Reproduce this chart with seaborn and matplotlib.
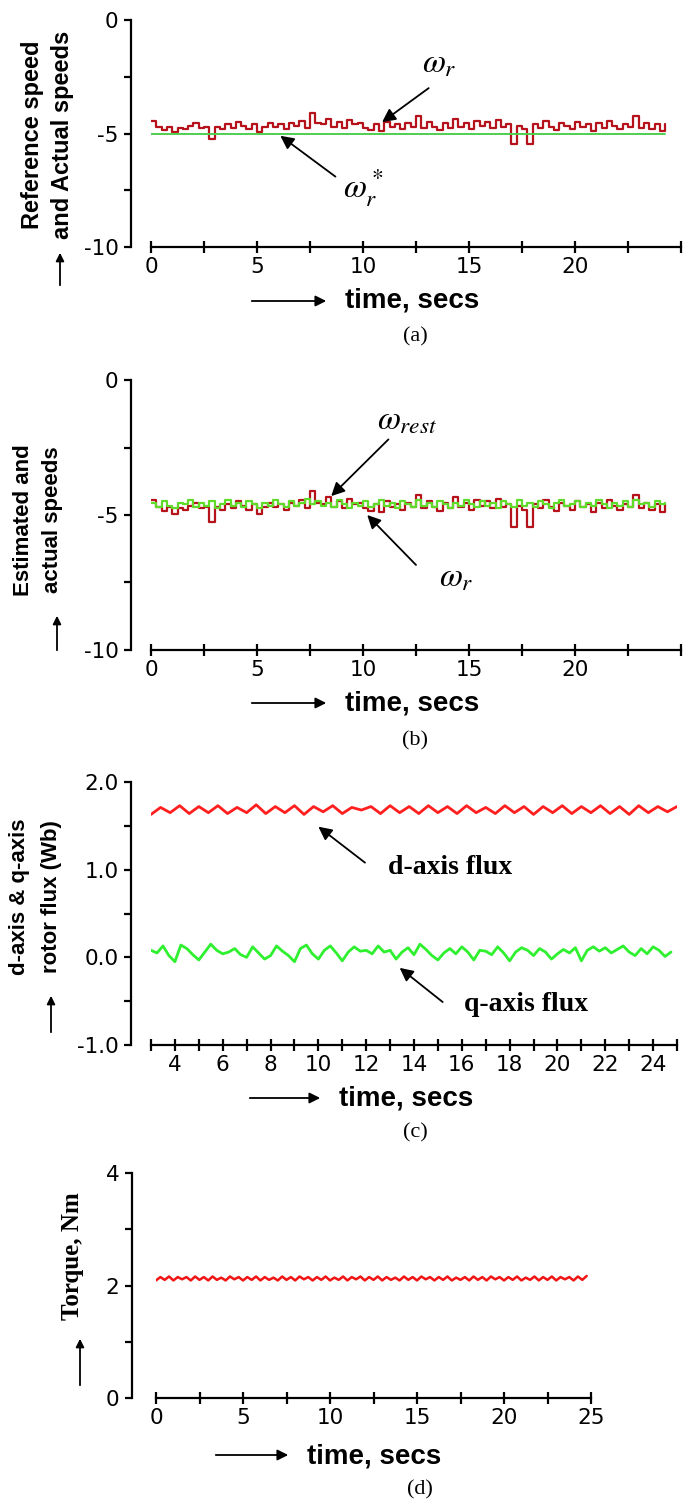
import numpy as np
import seaborn as sns
import matplotlib.pyplot as plt

sns.set_style('white')
plt.rcParams['font.family'] = ['DejaVu Sans']
plt.rcParams['mathtext.fontset'] = 'stix'
plt.rcParams['text.color'] = 'black'

W, H = 687, 1499

# (a) / (b) speeds, sampled every 0.25 s
speed_dt = 0.25
omega_r = [
    -4.45, -4.70, -4.85, -4.70, -4.95, -4.75, -4.80, -4.65,
    -4.55, -4.75, -4.70, -5.25, -4.70, -4.80, -4.60, -4.75,
    -4.50, -4.65, -4.80, -4.60, -4.95, -4.70, -4.55, -4.70,
    -4.60, -4.80, -4.55, -4.65, -4.45, -4.75, -4.10, -4.55,
    -4.60, -4.35, -4.70, -4.50, -4.75, -4.40, -4.60, -4.55,
    -4.75, -4.85, -4.60, -4.90, -4.50, -4.70, -4.60, -4.80,
    -4.55, -4.70, -4.25, -4.75, -4.50, -4.70, -4.85, -4.55,
    -4.75, -4.35, -4.70, -4.55, -4.80, -4.45, -4.65, -4.50,
    -4.75, -4.40, -4.70, -4.60, -5.45, -4.65, -4.80, -5.45,
    -4.60, -4.75, -4.45, -4.70, -4.85, -4.55, -4.65, -4.80,
    -4.50, -4.70, -4.60, -4.90, -4.55, -4.75, -4.45, -4.65,
    -4.80, -4.60, -4.70, -4.25, -4.75, -4.55, -4.80, -4.60,
    -4.90, -4.60,
]
ref_time = [0.0, 24.25]
omega_ref = [-5.0, -5.0]
omega_est = [
    -4.55, -4.70, -4.50, -4.65, -4.75, -4.55, -4.60, -4.45,
    -4.70, -4.55, -4.65, -4.50, -4.75, -4.60, -4.45, -4.65,
    -4.55, -4.70, -4.50, -4.60, -4.75, -4.55, -4.65, -4.45,
    -4.60, -4.70, -4.50, -4.65, -4.55, -4.40, -4.60, -4.50,
    -4.65, -4.55, -4.70, -4.45, -4.60, -4.75, -4.55, -4.65,
    -4.50, -4.70, -4.60, -4.45, -4.65, -4.55, -4.75, -4.50,
    -4.60, -4.70, -4.45, -4.65, -4.55, -4.70, -4.50, -4.60,
    -4.75, -4.55, -4.65, -4.45, -4.60, -4.70, -4.50, -4.65,
    -4.55, -4.75, -4.50, -4.60, -4.70, -4.45, -4.65, -4.55,
    -4.70, -4.50, -4.60, -4.75, -4.55, -4.45, -4.65, -4.60,
    -4.50, -4.70, -4.55, -4.65, -4.45, -4.60, -4.75, -4.55,
    -4.65, -4.50, -4.70, -4.45, -4.60, -4.55, -4.70, -4.50,
    -4.60, -4.55,
]

# (c) rotor flux
d_start, d_dt = 3.0, 0.4
d_flux = [
    1.63, 1.71, 1.65, 1.73, 1.64, 1.72, 1.65, 1.73, 1.64, 1.71,
    1.65, 1.74, 1.64, 1.72, 1.65, 1.73, 1.63, 1.72, 1.66, 1.73,
    1.64, 1.71, 1.68, 1.72, 1.64, 1.73, 1.65, 1.72, 1.64, 1.73,
    1.65, 1.72, 1.64, 1.73, 1.65, 1.71, 1.64, 1.73, 1.65, 1.72,
    1.63, 1.72, 1.65, 1.73, 1.64, 1.72, 1.65, 1.73, 1.64, 1.72,
    1.63, 1.73, 1.65, 1.72, 1.66, 1.72,
]
q_start, q_dt = 3.0, 0.25
q_flux = [
    0.08, 0.05, 0.13, 0.02, -0.05, 0.14, 0.10, 0.03,
    -0.03, 0.06, 0.15, 0.08, 0.04, 0.06, 0.10, 0.03,
    0.00, 0.12, 0.05, -0.02, 0.02, 0.13, 0.07, 0.02,
    -0.05, 0.10, 0.14, 0.04, -0.02, 0.08, 0.13, 0.05,
    -0.04, 0.06, 0.12, 0.07, 0.08, 0.04, 0.13, 0.06,
    0.08, -0.02, 0.06, 0.11, 0.03, 0.15, 0.09, 0.02,
    -0.03, 0.05, 0.10, 0.04, 0.12, 0.06, -0.03, 0.08,
    0.07, 0.03, 0.12, 0.05, -0.04, 0.06, 0.11, 0.08,
    0.02, 0.10, 0.06, -0.02, 0.04, 0.09, 0.05, 0.11,
    -0.04, 0.08, 0.12, 0.07, 0.11, 0.05, 0.09, 0.13,
    0.06, 0.02, 0.10, 0.04, 0.12, 0.08, 0.01, 0.06,
]

# (d) torque
torque_dt = 0.25
torque = [
    2.09, 2.15, 2.10, 2.16, 2.09, 2.15, 2.11, 2.15, 2.09, 2.16,
    2.10, 2.15, 2.09, 2.16, 2.10, 2.14, 2.09, 2.16, 2.11, 2.15,
    2.09, 2.15, 2.10, 2.16, 2.09, 2.15, 2.10, 2.14, 2.09, 2.16,
    2.10, 2.15, 2.09, 2.16, 2.11, 2.15, 2.09, 2.15, 2.10, 2.16,
    2.09, 2.14, 2.10, 2.16, 2.09, 2.15, 2.11, 2.16, 2.09, 2.15,
    2.10, 2.16, 2.09, 2.15, 2.10, 2.14, 2.09, 2.16, 2.10, 2.15,
    2.09, 2.16, 2.11, 2.15, 2.09, 2.15, 2.10, 2.16, 2.09, 2.14,
    2.10, 2.15, 2.09, 2.16, 2.10, 2.15, 2.09, 2.16, 2.11, 2.15,
    2.09, 2.15, 2.10, 2.16, 2.09, 2.14, 2.10, 2.16, 2.09, 2.15,
    2.10, 2.16, 2.09, 2.15, 2.11, 2.15, 2.09, 2.16, 2.10, 2.17,
]

speed_t = np.arange(len(omega_r)) * speed_dt
d_t = d_start + np.arange(len(d_flux)) * d_dt
q_t = q_start + np.arange(len(q_flux)) * q_dt
torque_t = np.arange(len(torque)) * torque_dt


def px(x, y):
    return x / W, 1 - y / H


def make_axes(x0, x1, ytop, ybot, offset):
    l, b = px(x0, ybot)
    ax = fig.add_axes([l, b, (x1 - x0) / W, (ybot - ytop) / H])
    for s in ['top', 'right']:
        ax.spines[s].set_visible(False)
    for s in ['left', 'bottom']:
        ax.spines[s].set_linewidth(1.6)
        ax.spines[s].set_color('black')
    ax.spines['left'].set_position(('outward', offset))
    ax.tick_params(axis='x', bottom=True, direction='inout', length=8, width=1.6,
                   pad=3, labelsize=15.5, colors='black')
    ax.tick_params(axis='y', left=True, direction='out', length=5, width=1.6,
                   pad=4, labelsize=15.5, colors='black')
    ax.set_xlabel('')
    ax.set_ylabel('')
    return ax


def ticks(ax, xt, xl, yt, yl):
    ax.set_xticks(xt)
    ax.set_xticklabels(xl)
    ax.set_yticks(yt)
    ax.set_yticklabels(yl)


def arrow(ax, tail, head, ms=20, lw=1.3, coords='data'):
    ax.annotate('', xy=head, xytext=tail, xycoords=coords, textcoords=coords,
                arrowprops=dict(arrowstyle='-|>', color='black', lw=lw,
                                mutation_scale=ms, shrinkA=0, shrinkB=0))


def fig_arrow(tail, head, ms=14):
    fig.patches.append(plt.matplotlib.patches.FancyArrowPatch(
        px(*tail), px(*head), transform=fig.transFigure, arrowstyle='-|>',
        mutation_scale=ms, color='black', lw=1.3))


def xlabel_block(xa0, xa1, ytext, caption_y, caption):
    fig_arrow((xa0, ytext), (xa1, ytext), ms=16)
    fig.text(*px(xa1 + 16, ytext), 'time, secs', ha='left', va='center',
             fontsize=20, fontweight='bold', family='Liberation Sans')
    fig.text(*px(415, caption_y), caption, ha='center', va='center',
             fontsize=16, family='Liberation Serif')


fig = plt.figure(figsize=(W / 100, H / 100), dpi=100)

# ---- (a)
ax = make_axes(151, 681, 20, 247, 14.4)
sns.lineplot(x=speed_t, y=omega_r, ax=ax, color='#b5121b', linewidth=1.6,
             drawstyle='steps-post')
sns.lineplot(x=ref_time, y=omega_ref, ax=ax, color='#4fcf4f', linewidth=1.4)
ax.set_xlim(0, 25)
ax.set_ylim(-10, 0)
ticks(ax, np.arange(0, 25.1, 2.5), ['0', '', '5', '', '10', '', '15', '', '20', '', ''],
      [-10, -7.5, -5, -2.5, 0], ['-10', '', '-5', '', '0'])
ax.text(13.6, -1.9, r'$\omega_r$', fontsize=24, ha='center', va='center')
arrow(ax, (13.1, -3.0), (10.9, -4.5))
ax.text(10.0, -7.4, r'$\omega_r^*$', fontsize=24, ha='center', va='center')
arrow(ax, (8.7, -6.9), (6.1, -5.1))
fig.text(*px(33, 135), 'Reference speed', rotation=90, ha='center', va='center',
         fontsize=17, fontweight='bold', family='Liberation Sans')
fig.text(*px(62, 135), 'and Actual speeds', rotation=90, ha='center', va='center',
         fontsize=17, fontweight='bold', family='Liberation Sans')
fig_arrow((60, 288), (60, 250), ms=12)
xlabel_block(249, 329, 301, 337, '(a)')

# ---- (b)
ax = make_axes(151, 681, 380, 650, 14.4)
sns.lineplot(x=speed_t, y=omega_r, ax=ax, color='#b5121b', linewidth=1.6,
             drawstyle='steps-post')
sns.lineplot(x=speed_t, y=omega_est, ax=ax, color='#5fdc2a', linewidth=1.6,
             drawstyle='steps-post')
ax.set_xlim(0, 25)
ax.set_ylim(-10, 0)
ticks(ax, np.arange(0, 25.1, 2.5), ['0', '', '5', '', '10', '', '15', '', '20', '', ''],
      [-10, -7.5, -5, -2.5, 0], ['-10', '', '-5', '', '0'])
ax.text(12.1, -1.5, r'$\omega_{rest}$', fontsize=24, ha='center', va='center')
arrow(ax, (11.2, -2.2), (8.5, -4.3))
ax.text(14.4, -7.3, r'$\omega_r$', fontsize=24, ha='center', va='center')
arrow(ax, (12.5, -6.85), (10.2, -5.0))
fig.text(*px(24, 520), 'Estimated and', rotation=90, ha='center', va='center',
         fontsize=16, fontweight='bold', family='Liberation Sans')
fig.text(*px(53, 520), 'actual speeds', rotation=90, ha='center', va='center',
         fontsize=16, fontweight='bold', family='Liberation Sans')
fig_arrow((57, 653), (57, 613), ms=12)
xlabel_block(249, 329, 703, 741, '(b)')

# ---- (c)
ax = make_axes(151, 677, 782, 1045, 14.4)
sns.lineplot(x=d_t, y=d_flux, ax=ax, color='#ff1f1f', linewidth=2.0)
sns.lineplot(x=q_t, y=q_flux, ax=ax, color='#2ef02e', linewidth=2.0)
ax.set_xlim(3, 25)
ax.set_ylim(-1, 2)
ticks(ax, np.arange(3, 26, 1), [str(v) if v % 2 == 0 else '' for v in range(3, 26)],
      np.arange(-1, 2.01, 0.5), ['-1.0', '', '0.0', '', '1.0', '', '2.0'])
ax.text(15.5, 1.02, 'd-axis flux', fontsize=20, fontweight='bold',
        family='Liberation Serif', ha='center', va='center')
arrow(ax, (11.95, 1.08), (10.0, 1.49))
ax.text(18.7, -0.54, 'q-axis flux', fontsize=20, fontweight='bold',
        family='Liberation Serif', ha='center', va='center')
arrow(ax, (15.2, -0.51), (13.4, -0.12))
fig.text(*px(20, 897), 'd-axis & q-axis', rotation=90, ha='center', va='center',
         fontsize=16, fontweight='bold', family='Liberation Sans')
fig.text(*px(51, 897), 'rotor flux (Wb)', rotation=90, ha='center', va='center',
         fontsize=16, fontweight='bold', family='Liberation Sans')
fig_arrow((51, 1035), (51, 993), ms=12)
xlabel_block(247, 323, 1098, 1133, '(c)')

# ---- (d)
ax = make_axes(156, 591, 1173, 1398, 17.3)
sns.lineplot(x=torque_t, y=torque, ax=ax, color='#f01414', linewidth=1.8)
ax.set_xlim(0, 25)
ax.set_ylim(0, 4)
ticks(ax, np.arange(0, 25.1, 2.5), ['0', '', '5', '', '10', '', '15', '', '20', '', '25'],
      [0, 1, 2, 3, 4], ['0', '', '2', '', '4'])
fig.text(*px(73, 1256), 'Torque, Nm', rotation=90, ha='center', va='center',
         fontsize=18, fontweight='bold', family='Liberation Serif')
fig_arrow((80, 1388), (80, 1336), ms=12)
fig_arrow((213, 1455), (291, 1455), ms=16)
fig.text(*px(307, 1457), 'time, secs', ha='left', va='center',
         fontsize=20, fontweight='bold', family='Liberation Sans')
fig.text(*px(420, 1490), '(d)', ha='center', va='center',
         fontsize=16, family='Liberation Serif')

fig.savefig('out.png', dpi=100)
